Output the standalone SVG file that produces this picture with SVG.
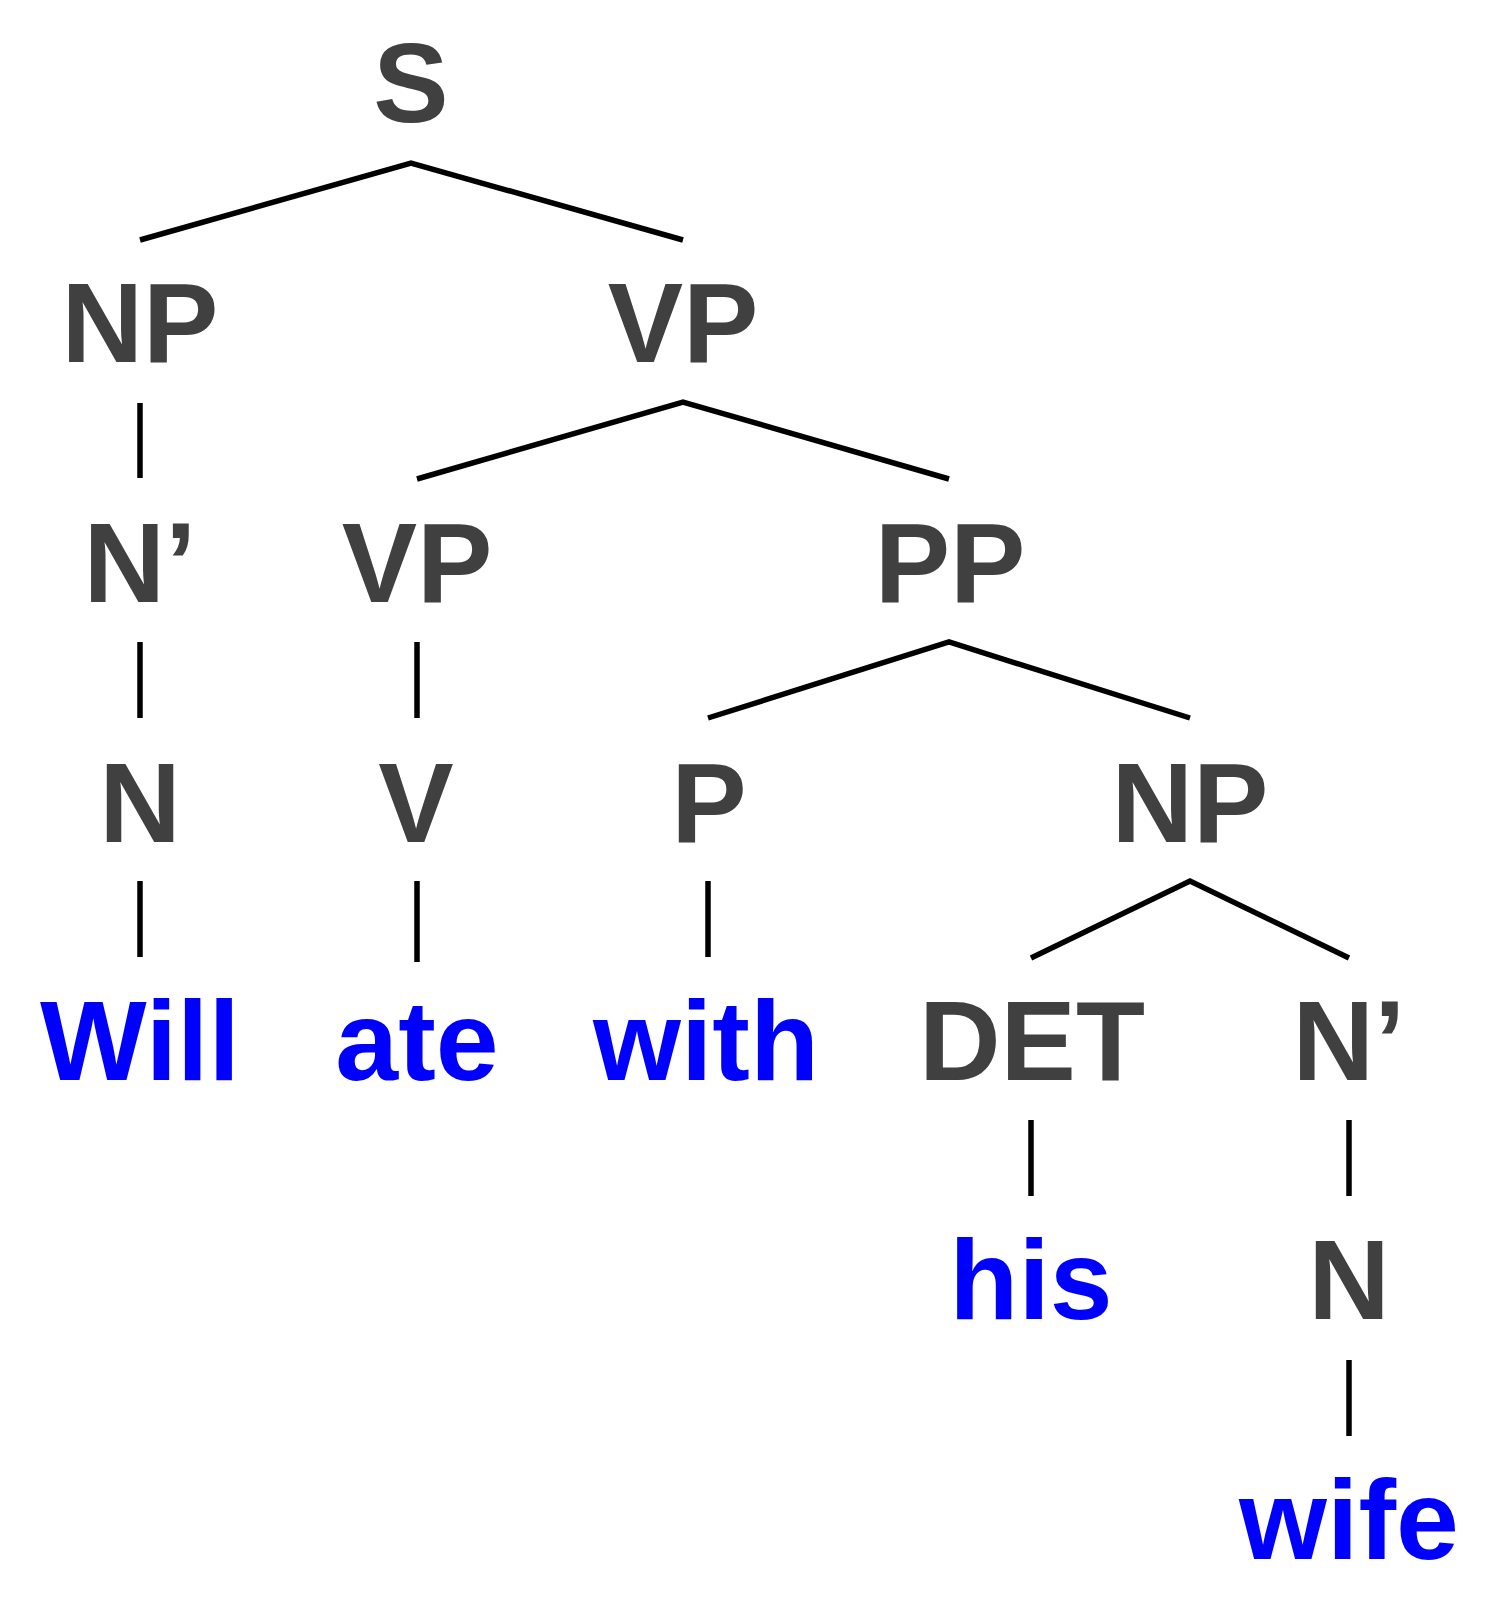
<svg xmlns="http://www.w3.org/2000/svg" width="1500" height="1600" viewBox="0 0 1500 1600">
<style>
.cat{font-family:"Liberation Sans",Arial,sans-serif;font-weight:bold;font-size:113px;fill:#404040;text-anchor:middle}
.word{font-family:"Liberation Sans",Arial,sans-serif;font-weight:bold;font-size:113px;fill:#0000ff;text-anchor:middle}
.edge{stroke:#000;stroke-width:5.5;fill:none;stroke-linecap:butt;stroke-linejoin:miter}
</style>
<rect width="1500" height="1600" fill="#fff"/>
<g id="connectors">
<polyline class="edge" points="140,240 411,163 683,240"/>
<line class="edge" x1="140" y1="403" x2="140" y2="478"/>
<polyline class="edge" points="417,479 683,402 949,479"/>
<line class="edge" x1="140" y1="642" x2="140" y2="718"/>
<line class="edge" x1="417" y1="642" x2="417" y2="718"/>
<polyline class="edge" points="708,718 949,642 1190,718"/>
<line class="edge" x1="140" y1="881" x2="140" y2="957"/>
<line class="edge" x1="417" y1="881" x2="417" y2="962"/>
<line class="edge" x1="708" y1="881" x2="708" y2="957"/>
<polyline class="edge" points="1031,958 1190,881 1349,958"/>
<line class="edge" x1="1031" y1="1120" x2="1031" y2="1196"/>
<line class="edge" x1="1349" y1="1120" x2="1349" y2="1196"/>
<line class="edge" x1="1349" y1="1360" x2="1349" y2="1436"/>
</g>
<g id="S"><text class="cat" x="411" y="122">S</text></g>
<g id="NP1"><text class="cat" x="140" y="362">NP</text></g>
<g id="VP1"><text class="cat" x="683" y="362">VP</text></g>
<g id="Nbar1"><text class="cat" x="140" y="602">N’</text></g>
<g id="VP2"><text class="cat" x="417" y="602">VP</text></g>
<g id="PP"><text class="cat" x="950" y="602">PP</text></g>
<g id="N1"><text class="cat" x="140" y="842">N</text></g>
<g id="V"><text class="cat" x="416" y="842">V</text></g>
<g id="P"><text class="cat" x="709" y="842">P</text></g>
<g id="NP2"><text class="cat" x="1190" y="842">NP</text></g>
<g id="Will"><text class="word" x="140" y="1080">Will</text></g>
<g id="ate"><text class="word" x="417" y="1080">ate</text></g>
<g id="with"><text class="word" x="706" y="1080">with</text></g>
<g id="DET"><text class="cat" x="1032" y="1080">DET</text></g>
<g id="Nbar2"><text class="cat" x="1349" y="1080">N’</text></g>
<g id="his"><text class="word" x="1031" y="1319">his</text></g>
<g id="N2"><text class="cat" x="1349" y="1319">N</text></g>
<g id="wife"><text class="word" x="1349" y="1559">wife</text></g>
</svg>
